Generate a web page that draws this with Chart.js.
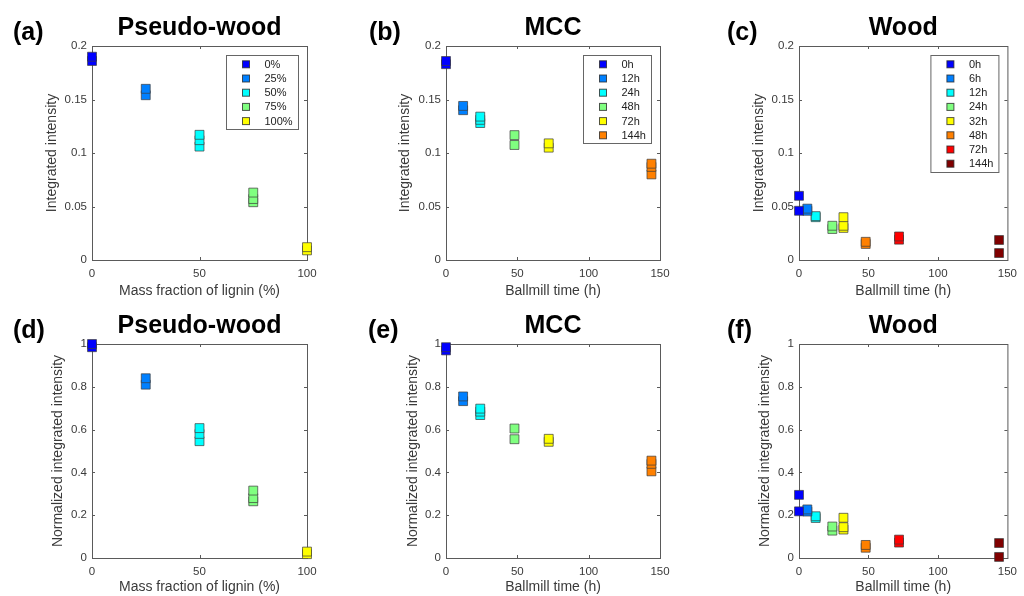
<!DOCTYPE html>
<html>
<head>
<meta charset="utf-8">
<script src="https://cdn.jsdelivr.net/npm/chart.js@4.4.0/dist/chart.umd.min.js"></script>
<style>
  html, body { margin: 0; padding: 0; background: #fff; }
  #wrap { position: relative; width: 1024px; height: 596px; overflow: hidden; }
  #wrap canvas { position: absolute; }
</style>
</head>
<body>
<div id="wrap">
  <canvas id="pa" width="340" height="298" style="left:0;top:0"></canvas>
  <canvas id="pb" width="340" height="298" style="left:340px;top:0"></canvas>
  <canvas id="pc" width="344" height="298" style="left:680px;top:0"></canvas>
  <canvas id="pd" width="340" height="298" style="left:0;top:298px"></canvas>
  <canvas id="pe" width="340" height="298" style="left:340px;top:298px"></canvas>
  <canvas id="pf" width="344" height="298" style="left:680px;top:298px"></canvas>
</div>
<script>
// jet colours, one per sample group
const JET = ['#0000ff', '#0080ff', '#00ffff', '#80ff80', '#ffff00', '#ff8000', '#ff0000', '#800000'];

// pseudo-wood : lignin mass fraction (%)
const lignin = [0, 25, 50, 75, 100];
const pwLabels = ['0%', '25%', '50%', '75%', '100%'];
const pwInt = [[0.186, 0.190], [0.154, 0.160], [0.106, 0.112, 0.117], [0.054, 0.057, 0.063], [0.009, 0.012]];
const pwNorm = [[0.985, 1.0], [0.81, 0.84], [0.546, 0.58, 0.607], [0.265, 0.28, 0.315], [0.018, 0.03]];

// MCC : ballmill time (h)
const mccTime = [0, 12, 24, 48, 72, 144];
const mccLabels = ['0h', '12h', '24h', '48h', '72h', '144h'];
const mccInt = [[0.183, 0.186], [0.140, 0.144], [0.128, 0.131, 0.134], [0.1075, 0.1167], [0.105, 0.109], [0.080, 0.087, 0.090]];
const mccNorm = [[0.97, 0.985], [0.733, 0.755], [0.668, 0.684, 0.698], [0.555, 0.605], [0.543, 0.557], [0.405, 0.44, 0.455]];

// wood : ballmill time (h)
const woodTime = [0, 6, 12, 24, 32, 48, 72, 144];
const woodLabels = ['0h', '6h', '12h', '24h', '32h', '48h', '72h', '144h'];
const woodInt = [[0.046, 0.060], [0.046, 0.048], [0.040, 0.041], [0.029, 0.032], [0.030, 0.032, 0.040], [0.015, 0.017], [0.019, 0.022], [0.0065, 0.0187]];
const woodNorm = [[0.218, 0.295], [0.217, 0.227], [0.187, 0.195], [0.128, 0.147], [0.133, 0.144, 0.188], [0.048, 0.061], [0.072, 0.086], [0.005, 0.070]];

const FONT = '"Liberation Sans", Arial, Helvetica, sans-serif';
const INK = '#3a3a3a';
const AXIS = '#5a5a5a';
const TITLE_SIZE = 14;

// matlab-like box, inward ticks, title, panel letter and legend
const panelDecor = {
  id: 'panelDecor',
  beforeDatasetsDraw(chart, args, opts) {
    const {ctx, chartArea: a, scales: {x, y}} = chart;
    ctx.save();
    ctx.strokeStyle = AXIS;
    ctx.lineWidth = 1;
    ctx.strokeRect(a.left + 0.5, a.top + 0.5, a.right - a.left, a.bottom - a.top);
    ctx.beginPath();
    for (const t of x.ticks) {
      const px = Math.round(x.getPixelForValue(t.value)) + 0.5;
      if (px <= a.left + 1 || px >= a.right - 1) continue;
      ctx.moveTo(px, a.bottom); ctx.lineTo(px, a.bottom - 3);
      ctx.moveTo(px, a.top); ctx.lineTo(px, a.top + 3);
    }
    for (const t of y.ticks) {
      const py = Math.round(y.getPixelForValue(t.value)) + 0.5;
      if (py <= a.top + 1 || py >= a.bottom - 1) continue;
      ctx.moveTo(a.left, py); ctx.lineTo(a.left + 3, py);
      ctx.moveTo(a.right, py); ctx.lineTo(a.right - 3, py);
    }
    ctx.stroke();
    ctx.restore();
  },
  afterDraw(chart, args, opts) {
    const {ctx, chartArea: a} = chart;
    ctx.save();
    ctx.fillStyle = '#000';
    ctx.textBaseline = 'middle';
    ctx.textAlign = 'center';
    ctx.font = 'bold 25px ' + FONT;
    ctx.fillText(opts.title, (a.left + a.right) / 2, 28.5);
    ctx.textAlign = 'left';
    ctx.font = 'bold 25px ' + FONT;
    ctx.fillText(opts.letter, opts.letterX, 33);

    if (opts.legend) {
      const ds = chart.data.datasets;
      ctx.font = '11px ' + FONT;
      let tw = 0;
      ds.forEach(d => { tw = Math.max(tw, ctx.measureText(d.label).width); });
      const rowH = 14.2;
      const w = Math.round(38 + tw + 6);
      const h = Math.round(ds.length * rowH + 3);
      const bx = a.right - 9 - w;
      const by = a.top + 9;
      ctx.fillStyle = '#fff';
      ctx.fillRect(bx, by, w, h);
      ctx.strokeStyle = '#666';
      ctx.lineWidth = 1;
      ctx.strokeRect(bx + 0.5, by + 0.5, w, h);
      ds.forEach((d, i) => {
        const cy = by + 9.3 + i * rowH;
        ctx.fillStyle = d.backgroundColor;
        ctx.fillRect(bx + 16.5, cy - 3.5, 7, 7);
        ctx.strokeStyle = 'rgba(40,40,40,0.8)';
        ctx.strokeRect(bx + 16.5, cy - 3.5, 7, 7);
        ctx.fillStyle = '#222';
        ctx.fillText(d.label, bx + 38.5, cy + 0.5);
      });
    }
    ctx.restore();
  }
};

function buildPanel(cfg) {
  const canvas = document.getElementById(cfg.id);
  const W = canvas.width, H = canvas.height;
  const padLeft = Math.round(cfg.yTitleX - TITLE_SIZE * 0.6);
  const datasets = cfg.groups.map((ys, i) => ({
    label: cfg.labels[i],
    data: ys.map(v => ({x: cfg.x[i], y: v})),
    backgroundColor: JET[i],
    borderColor: 'rgba(60,60,60,0.7)',
    borderWidth: 1,
    pointStyle: 'rect',
    pointRadius: 6.3,
    pointHoverRadius: 6.3,
    clip: false
  }));

  return new Chart(canvas, {
    type: 'scatter',
    data: {datasets: datasets},
    options: {
      responsive: false,
      animation: false,
      events: [],
      layout: {padding: {left: padLeft, right: W - cfg.area[1], top: 46, bottom: cfg.bottomPad}},
      plugins: {
        legend: {display: false},
        tooltip: {enabled: false},
        panelDecor: {title: cfg.title, letter: cfg.letter, letterX: cfg.letterX, legend: cfg.legend}
      },
      scales: {
        x: {
          type: 'linear', min: 0, max: cfg.xMax,
          grid: {display: false, drawTicks: false},
          border: {display: false},
          ticks: {stepSize: 50, padding: 7, color: INK, font: {family: FONT, size: 11.5}},
          title: {display: true, text: cfg.xTitle, padding: {top: 0, bottom: -2}, color: INK, font: {family: FONT, size: TITLE_SIZE}},
          afterFit: s => { s.height = H - 260 - cfg.bottomPad; }
        },
        y: {
          type: 'linear', min: 0, max: cfg.yMax,
          grid: {display: false, drawTicks: false},
          border: {display: false},
          ticks: {
            stepSize: cfg.yStep, padding: 5, color: INK, font: {family: FONT, size: 11.5},
            callback: v => String(+v.toFixed(3))
          },
          title: {display: true, text: cfg.yTitle, padding: 0, color: INK, font: {family: FONT, size: TITLE_SIZE}},
          afterFit: s => { s.width = cfg.area[0] - padLeft; }
        }
      }
    },
    plugins: [panelDecor]
  });
}

const TIME = 'Ballmill time (h)';
const LIG = 'Mass fraction of lignin (%)';
const INT = 'Integrated intensity';
const NORM = 'Normalized integrated intensity';

buildPanel({id: 'pa', letter: '(a)', letterX: 13, title: 'Pseudo-wood', x: lignin, groups: pwInt, labels: pwLabels,
  xMax: 100, yMax: 0.2, yStep: 0.05, xTitle: LIG, yTitle: INT, area: [92, 307], yTitleX: 52, bottomPad: 0, legend: true});
buildPanel({id: 'pb', letter: '(b)', letterX: 29, title: 'MCC', x: mccTime, groups: mccInt, labels: mccLabels,
  xMax: 150, yMax: 0.2, yStep: 0.05, xTitle: TIME, yTitle: INT, area: [106, 320], yTitleX: 65, bottomPad: 0, legend: true});
buildPanel({id: 'pc', letter: '(c)', letterX: 47, title: 'Wood', x: woodTime, groups: woodInt, labels: woodLabels,
  xMax: 150, yMax: 0.2, yStep: 0.05, xTitle: TIME, yTitle: INT, area: [119, 332], yTitleX: 79, bottomPad: 0, legend: true});
buildPanel({id: 'pd', letter: '(d)', letterX: 13, title: 'Pseudo-wood', x: lignin, groups: pwNorm, labels: pwLabels,
  xMax: 100, yMax: 1, yStep: 0.2, xTitle: LIG, yTitle: NORM, area: [92, 307], yTitleX: 58, bottomPad: 2, legend: false});
buildPanel({id: 'pe', letter: '(e)', letterX: 28, title: 'MCC', x: mccTime, groups: mccNorm, labels: mccLabels,
  xMax: 150, yMax: 1, yStep: 0.2, xTitle: TIME, yTitle: NORM, area: [106, 320], yTitleX: 73, bottomPad: 2, legend: false});
buildPanel({id: 'pf', letter: '(f)', letterX: 47, title: 'Wood', x: woodTime, groups: woodNorm, labels: woodLabels,
  xMax: 150, yMax: 1, yStep: 0.2, xTitle: TIME, yTitle: NORM, area: [119, 332], yTitleX: 85, bottomPad: 2, legend: false});
</script>
</body>
</html>
